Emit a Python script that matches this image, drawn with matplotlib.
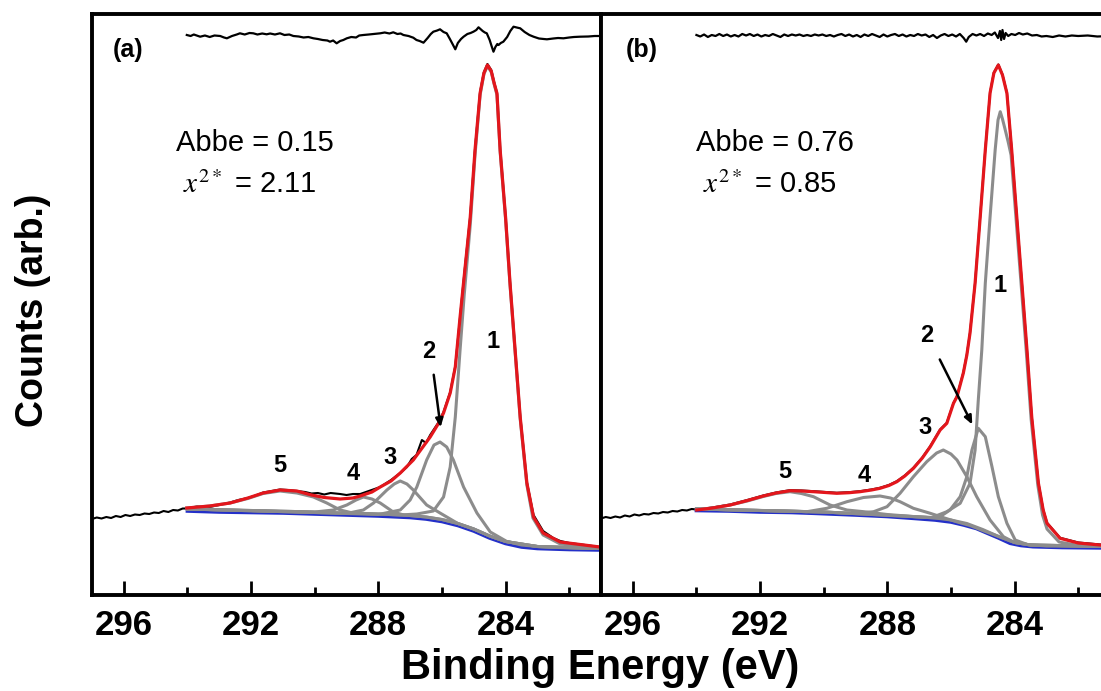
import matplotlib
matplotlib.use("Agg")
import matplotlib.pyplot as plt
from matplotlib.ticker import FixedLocator

plt.rcParams['mathtext.fontset'] = 'stix'

# ---------------- data: panel (a) ----------------
a_data = [(297.0, 76), (296.85, 77.5), (296.7, 76.5), (296.55, 78), (296.4, 77), (296.25, 79), (296.1, 78),
          (295.95, 80), (295.8, 79), (295.65, 80.5), (295.5, 80), (295.35, 81.5), (295.2, 81), (295.05, 82.5),
          (294.9, 82), (294.75, 84), (294.6, 83), (294.45, 85), (294.3, 84.5), (294.15, 86.5), (294.02, 86.5),
          (293.7, 88.5), (293.3, 88), (293.0, 90), (292.66, 92.5), (292.4, 95), (292.1, 97), (291.9, 99),
          (291.62, 102.5), (291.35, 104), (291.09, 105.5), (290.85, 105), (290.56, 104), (290.3, 103),
          (290.1, 101.5), (289.9, 102), (289.7, 100.5), (289.5, 102), (289.2, 101), (289.0, 100), (288.8, 101),
          (288.57, 101), (288.3, 104), (287.94, 108), (287.6, 115), (287.31, 122), (287.1, 128), (286.95, 136),
          (286.8, 140), (286.63, 155), (286.5, 152), (286.37, 160), (286.1, 173), (285.95, 183), (285.74, 203),
          (285.58, 229), (285.43, 278), (285.27, 330), (285.11, 379), (284.96, 446), (284.80, 503), (284.68, 523),
          (284.57, 531), (284.45, 525), (284.36, 513), (284.27, 502), (284.17, 446), (284.0, 379), (283.86, 313),
          (283.70, 246), (283.54, 179), (283.33, 113), (283.12, 80), (282.82, 64), (282.5, 57), (282.28, 54),
          (282.0, 52), (281.5, 50), (281.03, 48)]
a_fit = [(294.02, 87), (293.3, 89), (292.66, 92), (292.1, 97), (291.62, 102), (291.09, 105), (290.56, 104),
         (290.1, 100), (289.7, 97.5), (289.2, 96), (288.8, 97), (288.57, 99), (288.2, 103), (287.94, 108),
         (287.6, 114), (287.31, 122), (286.9, 135), (286.6, 148), (286.37, 158), (286.1, 172), (285.95, 182),
         (285.74, 202), (285.58, 228), (285.43, 278), (285.27, 328), (285.11, 378), (284.96, 445), (284.80, 502),
         (284.68, 522), (284.57, 530), (284.45, 524), (284.36, 512), (284.27, 501.7), (284.17, 445), (284.0, 378),
         (283.86, 312), (283.70, 245), (283.54, 178), (283.33, 112), (283.12, 78), (282.82, 62), (282.28, 53),
         (281.03, 48)]
a_bg = [(294.0, 84), (293.0, 83), (292.0, 82.5), (291.0, 82), (290.0, 81), (289.0, 80), (288.0, 79), (287.0, 77.5),
        (286.5, 76), (286.0, 73.5), (285.5, 69.5), (285.0, 64), (284.5, 57), (284.0, 51.5), (283.5, 48),
        (283.0, 46.5), (282.0, 45.5), (281.0, 45)]
a_c1 = [(294.0, 86), (290.0, 83), (288.0, 81), (287.3, 80), (286.79, 81), (286.27, 84), (285.95, 98), (285.74, 128),
        (285.58, 178), (285.43, 245), (285.3, 300), (285.11, 370), (284.96, 440), (284.80, 500), (284.68, 521),
        (284.57, 529), (284.45, 523), (284.36, 511), (284.27, 500), (284.17, 443), (284.0, 376), (283.86, 310),
        (283.70, 243), (283.54, 176), (283.33, 110), (283.14, 77), (282.82, 60), (282.28, 51), (281.03, 47)]
a_c2 = [(294.0, 86), (290.0, 82.5), (288.0, 80.5), (287.31, 85), (287.0, 95), (286.79, 108), (286.48, 135),
        (286.25, 150), (286.06, 153), (285.85, 148), (285.64, 135), (285.32, 108), (284.9, 82), (284.48, 63),
        (283.96, 53.5), (283.5, 50), (283.0, 48.5), (282.0, 47), (281.0, 46.5)]
a_c3 = [(294.0, 86), (290.0, 82.5), (289.0, 81.5), (288.47, 85), (288.15, 92), (287.73, 105), (287.5, 111),
        (287.31, 114), (287.1, 111), (286.9, 105), (286.48, 90), (286.06, 82), (285.5, 71.5), (285.0, 66),
        (284.5, 59), (284.0, 53.5), (283.0, 48.5), (281.0, 46.5)]
a_c4 = [(294.0, 86), (290.0, 83), (289.41, 85), (288.99, 90), (288.7, 95), (288.47, 98), (288.2, 96), (287.94, 92),
        (287.53, 83), (287.2, 80), (286.5, 78), (286.0, 75.5), (285.5, 71.5), (285.0, 66), (284.5, 59),
        (284.0, 53.5), (283.0, 48.5), (281.0, 46.5)]
a_c5 = [(294.02, 87), (293.3, 89), (292.66, 92), (292.1, 96.5), (291.62, 101.5), (291.09, 104), (290.56, 102),
        (290.04, 98), (289.62, 92), (289.2, 85), (288.8, 82), (288.0, 81), (287.0, 79.5), (286.5, 78), (286.0, 75.5),
        (285.5, 71.5), (285.0, 66), (284.5, 59), (284.0, 53.5), (283.0, 48.5), (281.0, 46.5)]
a_res = [(294.02, 560), (293.9, 559), (293.8, 560.5), (293.6, 558.3), (293.45, 559.5), (293.3, 558),
         (293.15, 559.5), (292.97, 559), (292.85, 557.5), (292.76, 556.7), (292.6, 559), (292.45, 560.5),
         (292.35, 561.7), (292.2, 560.5), (292.05, 562), (291.93, 561.7), (291.8, 560.5), (291.65, 561.5),
         (291.51, 560.7), (291.4, 561.5), (291.25, 560.5), (291.09, 561.7), (290.95, 560), (290.8, 560.5),
         (290.67, 559), (290.5, 558.5), (290.35, 557.5), (290.2, 558), (290.04, 556.7), (289.9, 556),
         (289.75, 555), (289.6, 554.5), (289.52, 553.3), (289.42, 554.5), (289.31, 551.7), (289.2, 554),
         (289.1, 555), (288.99, 556.7), (288.85, 558), (288.7, 557.5), (288.6, 559.5), (288.47, 560),
         (288.3, 560.5), (288.15, 561), (287.94, 561.7), (287.8, 562.5), (287.65, 561.5), (287.53, 562.7),
         (287.4, 561), (287.3, 561.5), (287.21, 560), (287.05, 559), (286.90, 557.3), (286.8, 555), (286.7, 554),
         (286.58, 552.3), (286.45, 557), (286.35, 561), (286.27, 563.3), (286.15, 564.5), (286.06, 565.7),
         (285.95, 563), (285.85, 561.7), (285.75, 556), (285.65, 550), (285.58, 545.7), (285.5, 552), (285.4, 556),
         (285.32, 558.3), (285.2, 561), (285.1, 562), (285.01, 563.3), (284.92, 565), (284.85, 567.7),
         (284.72, 564), (284.65, 562.5), (284.59, 561.7), (284.5, 555), (284.44, 549), (284.38, 543.3),
         (284.32, 548), (284.26, 551), (284.22, 550), (284.15, 552), (284.07, 553.3), (283.95, 558), (283.85, 564),
         (283.75, 568.3), (283.65, 567.5), (283.54, 566.7), (283.4, 563), (283.25, 560), (283.12, 558.3),
         (282.95, 556.5), (282.8, 556), (282.70, 555.7), (282.5, 556.5), (282.35, 557), (282.18, 556.7),
         (282.0, 557.5), (281.85, 558), (281.66, 558.3), (281.4, 558.5), (281.2, 559), (281.03, 559)]

# ---------------- data: panel (b) ----------------
b_data = [(297.0, 76.5), (296.85, 78), (296.7, 77), (296.55, 78.5), (296.4, 77.5), (296.25, 79.5), (296.1, 78.5),
          (295.95, 80.5), (295.8, 79.5), (295.65, 81), (295.5, 80.5), (295.35, 82), (295.2, 81.5), (295.05, 83),
          (294.9, 82.5), (294.75, 84), (294.6, 83.5), (294.45, 85), (294.3, 84.5), (294.15, 86), (293.99, 85.5),
          (293.5, 87.5), (292.94, 90.5), (292.4, 95), (291.90, 99.5), (291.5, 102.5), (291.06, 104.8),
          (290.7, 104.5), (290.32, 103.8), (289.95, 103), (289.59, 102.2), (289.2, 102.8), (288.86, 103.8),
          (288.5, 105.5), (288.23, 107.2), (287.95, 110), (287.70, 113.8), (287.45, 119.5), (287.18, 127.2),
          (286.9, 137.5), (286.65, 148.8), (286.34, 165.5), (286.13, 172.2), (285.92, 192), (285.81, 198.8),
          (285.61, 222.5), (285.50, 240.5), (285.40, 262.5), (285.24, 312.5), (285.08, 378.5), (284.92, 445.5),
          (284.77, 502.5), (284.65, 522.5), (284.51, 530.5), (284.38, 520.5), (284.24, 502.2), (284.09, 445.5),
          (283.93, 378.5), (283.77, 312.2), (283.61, 245.5), (283.46, 178.5), (283.25, 112.2), (283.1, 85.5),
          (282.98, 72.2), (282.57, 57.2), (282.0, 52.5), (281.31, 50.5), (281.0, 50)]
b_fit = [(293.99, 85), (293.5, 87), (292.94, 90), (292.4, 94.5), (291.90, 99), (291.5, 102), (291.06, 104.3),
         (290.7, 104), (290.32, 103.3), (289.95, 102.5), (289.59, 101.7), (289.2, 102.3), (288.86, 103.3),
         (288.5, 105), (288.23, 106.7), (287.95, 109.5), (287.70, 113.3), (287.45, 119), (287.18, 126.7),
         (286.9, 137), (286.65, 148.3), (286.34, 165), (286.13, 171.7), (285.92, 191.7), (285.81, 198.3),
         (285.61, 222), (285.50, 240), (285.40, 262), (285.24, 312), (285.08, 378), (284.92, 445), (284.77, 502),
         (284.65, 522), (284.51, 530), (284.38, 520), (284.24, 501.7), (284.09, 445), (283.93, 378), (283.77, 311.7),
         (283.61, 245), (283.46, 178), (283.25, 111.7), (283.1, 85), (282.98, 71.7), (282.57, 56.7), (282.0, 52),
         (281.31, 50), (281.0, 49.5)]
b_bg = [(294.0, 84.5), (293.0, 84), (292.0, 83), (291.0, 82.5), (290.3, 81.7), (289.0, 80), (288.0, 78.5),
        (287.2, 76.7), (286.5, 75), (286.0, 73), (285.6, 70), (285.2, 66.5), (284.87, 62), (284.5, 57),
        (284.14, 51.7), (283.8, 49.5), (283.42, 48.3), (282.5, 47.5), (281.0, 47)]
b_c1 = [(294.0, 86), (290.0, 83), (287.2, 78.5), (286.6, 77.5), (286.13, 83.3), (285.71, 91.7), (285.40, 111.7),
        (285.24, 145), (285.14, 195), (285.03, 245), (284.92, 311.7), (284.77, 378), (284.61, 445), (284.52, 475),
        (284.45, 483.3), (284.38, 476), (284.3, 466), (284.2, 453), (284.11, 440), (283.95, 375), (283.79, 309),
        (283.63, 243), (283.48, 176), (283.27, 110), (283.12, 80), (282.98, 66), (282.6, 53), (282.0, 49.5),
        (281.0, 48.5)]
b_c2 = [(294.0, 86), (290.0, 83), (287.0, 78), (286.4, 77), (286.03, 85), (285.71, 98.3), (285.50, 118.3),
        (285.34, 145), (285.14, 166.7), (284.92, 158.3), (284.71, 128.3), (284.51, 98.3), (284.24, 71.7),
        (283.98, 55), (283.6, 50.5), (283.0, 49), (281.0, 48.5)]
b_c3 = [(294.0, 86), (290.0, 83), (289.0, 81.5), (288.43, 83.3), (288.01, 88.3), (287.60, 101.7), (287.18, 118.3),
        (286.76, 133.3), (286.45, 142), (286.24, 145), (286.0, 141), (285.81, 135), (285.50, 118.3), (285.19, 98.3),
        (284.77, 75), (284.35, 58.3), (284.0, 52.5), (283.5, 50), (281.0, 48.5)]
b_c4 = [(294.0, 86), (291.2, 84), (290.53, 83.3), (289.90, 86.7), (289.27, 93.3), (288.75, 97.5), (288.23, 99),
        (287.9, 97), (287.60, 93.3), (287.18, 86.7), (286.65, 81.7), (286.2, 77), (285.8, 73), (285.4, 69.5),
        (285.0, 64.5), (284.5, 58.5), (284.0, 52.5), (283.5, 50), (281.0, 48.5)]
b_c5 = [(293.99, 85.5), (293.5, 87), (292.94, 90), (292.4, 94), (291.90, 98.5), (291.5, 101.5), (291.06, 103.3),
        (290.7, 101.5), (290.32, 98.3), (289.80, 90), (289.27, 85), (288.74, 83.3), (288.0, 80.5), (287.2, 78.5),
        (286.5, 77), (286.0, 75), (285.5, 71.5), (285.0, 65.5), (284.5, 58.5), (284.0, 52.5), (283.5, 50),
        (281.0, 48.5)]
b_res = [(294.0, 560), (293.88, 558.5), (293.76, 560.5), (293.64, 558), (293.52, 560), (293.4, 559),
         (293.28, 561), (293.16, 559), (293.04, 560.5), (292.92, 558.5), (292.8, 560), (292.68, 558.5),
         (292.56, 561), (292.44, 559.5), (292.32, 561), (292.2, 559), (292.08, 560.5), (291.96, 558.5),
         (291.84, 560), (291.72, 559), (291.6, 561), (291.48, 559.5), (291.36, 558), (291.24, 560.5),
         (291.12, 559), (291.0, 560.5), (290.88, 559.5), (290.76, 560.5), (290.64, 559), (290.52, 560),
         (290.4, 559), (290.28, 560.5), (290.16, 559.5), (290.04, 560.5), (289.92, 559), (289.8, 560),
         (289.68, 558.5), (289.56, 560), (289.44, 561), (289.32, 559), (289.2, 560.5), (289.08, 558.5),
         (288.96, 560), (288.84, 558), (288.72, 560.5), (288.6, 559), (288.48, 561), (288.36, 559.5), (288.24, 558),
         (288.12, 560.5), (288.0, 558.5), (287.88, 560), (287.76, 561), (287.64, 559), (287.52, 560.5),
         (287.4, 558.5), (287.28, 560), (287.16, 559), (287.04, 561), (286.92, 559.5), (286.8, 560.5), (286.68, 558),
         (286.56, 560), (286.44, 557), (286.32, 559.5), (286.2, 561), (286.08, 559), (285.96, 560.5),
         (285.84, 558.5), (285.72, 561), (285.6, 557), (285.52, 553.3), (285.44, 558), (285.32, 561),
         (285.2, 559.5), (285.08, 561), (284.96, 559), (284.84, 561.5), (284.72, 560), (284.62, 562.5),
         (284.52, 557), (284.46, 564), (284.42, 555), (284.38, 565), (284.33, 556), (284.28, 562), (284.2, 559),
         (284.1, 561), (283.98, 560), (283.86, 562), (283.74, 560.5), (283.6, 561.5), (283.45, 559.5), (283.3, 560),
         (283.15, 558.5), (283.0, 559), (282.8, 558), (282.6, 559.5), (282.4, 558.5), (282.2, 559.5), (282.0, 559),
         (281.7, 559.5), (281.4, 558.5), (281.0, 559)]

panel_tags = ["(a)", "(b)"]
abbe_vals = ["0.15", "0.76"]
chi_vals = ["2.11", "0.85"]
# peak label positions (energy, height) per panel
a_peak_labels = [("1", 284.38, 253), ("2", 286.43, 243), ("3", 287.63, 138), ("4", 288.80, 121), ("5", 291.11, 130)]
b_peak_labels = [("1", 284.45, 310), ("2", 286.76, 260), ("3", 286.81, 168), ("4", 288.74, 120), ("5", 291.21, 123)]
a_arrow = [(286.27, 223), (286.03, 165)]
b_arrow = [(286.39, 238), (285.29, 168)]

major_ticks = [296, 292, 288, 284]
minor_ticks = [294, 290, 286, 282]

RED = '#e3161c'
GRAY = '#8c8c8c'
BLUE = '#2430c8'

W, H = 1101, 691
fig = plt.figure(figsize=(W / 100, H / 100), dpi=100)
axA = fig.add_axes([92 / W, 1 - 595 / H, 509 / W, 581 / H])
axB = fig.add_axes([601 / W, 1 - 595 / H, 509 / W, 581 / H])

SANS = ['Liberation Sans', 'DejaVu Sans']


def xy(pts):
    return [p[0] for p in pts], [p[1] for p in pts]


panels = [
    (axA, a_data, a_fit, a_bg, [a_c1, a_c2, a_c3, a_c4, a_c5], a_res, a_peak_labels, a_arrow),
    (axB, b_data, b_fit, b_bg, [b_c1, b_c2, b_c3, b_c4, b_c5], b_res, b_peak_labels, b_arrow),
]

for i, (ax, data, fit, bg, comps, res, plabels, arrow) in enumerate(panels):
    ax.plot(*xy(data), color='black', lw=1.5, zorder=2)
    ax.plot(*xy(res), color='black', lw=1.6, zorder=2)
    ax.plot(*xy(bg), color=BLUE, lw=2.6, zorder=3)
    for c in comps:
        ax.plot(*xy(c), color=GRAY, lw=2.2, zorder=4)
    ax.plot(*xy(fit), color=RED, lw=2.3, zorder=5)

    ax.set_xlim(297, 281)
    ax.set_ylim(0, 581)
    ax.set_yticks([])
    ax.xaxis.set_major_locator(FixedLocator(major_ticks))
    ax.xaxis.set_minor_locator(FixedLocator(minor_ticks))
    ax.tick_params(axis='x', which='major', direction='in', length=10, width=2, pad=10,
                   top=False, bottom=True)
    ax.tick_params(axis='x', which='minor', direction='in', length=6, width=2, top=False, bottom=True)
    for lab in ax.get_xticklabels():
        lab.set_family(SANS)
        lab.set_fontsize(25)
        lab.set_fontweight('bold')
    for s in ax.spines.values():
        s.set_linewidth(2.8)

    ax.text(0.071 if i == 0 else 0.08, 0.938, panel_tags[i], transform=ax.transAxes,
            ha='center', va='center', fontsize=18, fontweight='bold', family=SANS)
    cx = 0.32 if i == 0 else 0.342
    ax.text(cx, 0.778, "Abbe = " + abbe_vals[i], transform=ax.transAxes, ha='center', va='center',
            fontsize=21, family=SANS)
    ax.text(cx - 0.01, 0.706, r"$x^{2*}$ = " + chi_vals[i], transform=ax.transAxes, ha='center',
            va='center', fontsize=21, family=SANS)
    for (t, e, v) in plabels:
        ax.text(e, v, t, ha='center', va='center', fontsize=17, fontweight='bold', family=SANS, zorder=6)
    ax.annotate('', xy=arrow[1], xytext=arrow[0],
                arrowprops=dict(arrowstyle='-|>,head_length=0.5,head_width=0.22', color='black', lw=1.8),
                zorder=6)

fig.text(600 / W, 1 - 668 / H, "Binding Energy (eV)", ha='center', va='center', fontsize=30,
         fontweight='bold', family=SANS)
fig.text(33 / W, 1 - 310 / H, "Counts (arb.)", ha='center', va='center', rotation=90, fontsize=27,
         fontweight='bold', family=SANS)

fig.savefig('out.png', dpi=100)
